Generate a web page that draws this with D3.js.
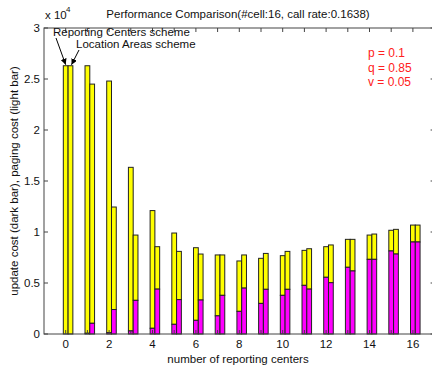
<!DOCTYPE html>
<html>
<head>
<meta charset="utf-8">
<script src="https://cdn.jsdelivr.net/npm/d3@7"></script>
<style>
body { margin: 0; background: #fff; }
text { font-family: "Liberation Sans", Arial, sans-serif; }
</style>
</head>
<body>
<script>
// number of reporting centers
var centers = d3.range(0, 17);

// Reporting Centers scheme (left bar), units of 1e4
var rcUpdate = [0, 0.007, 0.013, 0.03, 0.056, 0.095, 0.134, 0.178, 0.222, 0.30, 0.379, 0.477, 0.556, 0.654, 0.732, 0.814, 0.902];
var rcPaging = [2.63, 2.623, 2.467, 1.604, 1.154, 0.895, 0.712, 0.597, 0.494, 0.442, 0.389, 0.343, 0.30, 0.274, 0.238, 0.203, 0.166];

// Location Areas scheme (right bar)
var laUpdate = [0, 0.105, 0.24, 0.33, 0.44, 0.337, 0.333, 0.379, 0.45, 0.438, 0.438, 0.44, 0.503, 0.618, 0.732, 0.784, 0.902];
var laPaging = [2.63, 2.345, 1.005, 0.64, 0.416, 0.473, 0.451, 0.396, 0.325, 0.352, 0.372, 0.396, 0.37, 0.31, 0.248, 0.242, 0.166];

var yTicks = [0, 0.5, 1, 1.5, 2, 2.5, 3];
var xTickLabels = [0, 2, 4, 6, 8, 10, 12, 14, 16];
var params = ["p = 0.1", "q = 0.85", "v = 0.05"];

var width = 432, height = 366;

var svg = d3.select("body").append("svg")
    .attr("width", width)
    .attr("height", height);

var x = d3.scaleLinear().domain([-1, 17]).range([44, 434.6]);
var y = d3.scaleLinear().domain([0, 3]).range([334, 28]);

var barW = 0.22;

// bars
function drawBars(upd, pag, shift) {
    var g = svg.append("g");
    centers.forEach(function(c, i) {
        var x0 = x(c + shift - barW / 2), w = x(barW) - x(0);
        // paging cost on top (light)
        g.append("rect")
            .attr("x", x0).attr("width", w)
            .attr("y", y(upd[i] + pag[i]))
            .attr("height", y(upd[i]) - y(upd[i] + pag[i]))
            .attr("fill", "#ffff00")
            .attr("stroke", "#222").attr("stroke-width", 1);
        if (upd[i] > 0) {
            g.append("rect")
                .attr("x", x0).attr("width", w)
                .attr("y", y(upd[i]))
                .attr("height", y(0) - y(upd[i]))
                .attr("fill", "#ff00ff")
                .attr("stroke", "#222").attr("stroke-width", 1);
        }
    });
}
drawBars(rcUpdate, rcPaging, 0);
drawBars(laUpdate, laPaging, barW);

// axes box
var axisColor = "#444";
svg.append("rect")
    .attr("x", x(-1)).attr("y", y(3))
    .attr("width", x(17) - x(-1)).attr("height", y(0) - y(3))
    .attr("fill", "none").attr("stroke", axisColor);

var tickLen = 4;
// x ticks (bottom and top, inward)
var xt = svg.append("g");
centers.forEach(function(c) {
    xt.append("line").attr("x1", x(c)).attr("x2", x(c))
        .attr("y1", y(0)).attr("y2", y(0) - tickLen).attr("stroke", axisColor);
    xt.append("line").attr("x1", x(c)).attr("x2", x(c))
        .attr("y1", y(3)).attr("y2", y(3) + tickLen).attr("stroke", axisColor);
});
xTickLabels.forEach(function(c) {
    xt.append("text").attr("x", x(c)).attr("y", 348)
        .attr("text-anchor", "middle").attr("font-size", 11.5).attr("fill", "#111")
        .text(c);
});

// y ticks (left and right, inward)
var yt = svg.append("g");
yTicks.forEach(function(v) {
    yt.append("line").attr("x1", x(-1)).attr("x2", x(-1) + tickLen)
        .attr("y1", y(v)).attr("y2", y(v)).attr("stroke", axisColor);
    yt.append("line").attr("x1", x(17)).attr("x2", x(17) - tickLen)
        .attr("y1", y(v)).attr("y2", y(v)).attr("stroke", axisColor);
    yt.append("text").attr("x", 40).attr("y", y(v) + 4)
        .attr("text-anchor", "end").attr("font-size", 11.5).attr("fill", "#111")
        .text(v);
});

// exponent
svg.append("text").attr("x", 45).attr("y", 19).attr("font-size", 11.5).attr("fill", "#111").text("x 10");
svg.append("text").attr("x", 66).attr("y", 12).attr("font-size", 8).attr("fill", "#111").text("4");

// title
svg.append("text").attr("x", 238).attr("y", 18)
    .attr("text-anchor", "middle").attr("font-size", 11.5).attr("fill", "#111")
    .text("Performance Comparison(#cell:16, call rate:0.1638)");

// axis labels
svg.append("text").attr("x", 238).attr("y", 363)
    .attr("text-anchor", "middle").attr("font-size", 11.5).attr("fill", "#111")
    .text("number of reporting centers");
svg.append("text")
    .attr("transform", "translate(18,181) rotate(-90)")
    .attr("text-anchor", "middle").attr("font-size", 11.5).attr("fill", "#111")
    .text("update cost (dark bar), paging cost (light bar)");

// annotations with arrows
svg.append("defs").append("marker")
    .attr("id", "head").attr("viewBox", "0 0 10 10")
    .attr("refX", 10).attr("refY", 5)
    .attr("markerWidth", 6).attr("markerHeight", 6)
    .attr("markerUnits", "userSpaceOnUse")
    .attr("orient", "auto")
    .append("path").attr("d", "M0,0L10,5L0,10z").attr("fill", "#000");

svg.append("text").attr("x", 53).attr("y", 36).attr("font-size", 11.5).attr("fill", "#111")
    .text("Reporting Centers scheme");
svg.append("text").attr("x", 76).attr("y", 48).attr("font-size", 11.5).attr("fill", "#111")
    .text("Location Areas scheme");

svg.append("line").attr("x1", 56).attr("y1", 38).attr("x2", x(0)).attr("y2", y(2.63) - 1)
    .attr("stroke", "#000").attr("marker-end", "url(#head)");
svg.append("line").attr("x1", 79).attr("y1", 50).attr("x2", x(barW) + 1).attr("y2", y(2.63) - 1)
    .attr("stroke", "#000").attr("marker-end", "url(#head)");

// parameters
svg.selectAll(".param").data(params).enter().append("text")
    .attr("class", "param")
    .attr("x", 368).attr("y", function(d, i) { return 57 + i * 14.5; })
    .attr("font-size", 12).attr("fill", "#ff2020")
    .text(function(d) { return d; });
</script>
</body>
</html>
